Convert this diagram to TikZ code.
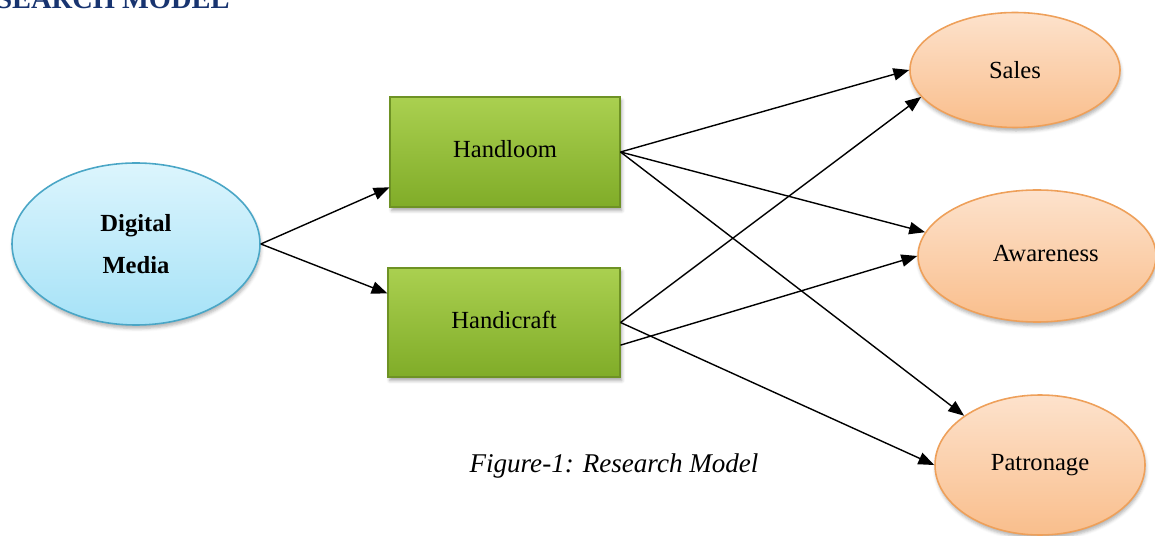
\documentclass[tikz,border=0pt]{standalone}
\usepackage{fontspec}
\setmainfont{Liberation Serif}
\usetikzlibrary{arrows.meta,shapes.geometric,shadows.blur}

\definecolor{navy}{RGB}{24,52,112}
\definecolor{skytop}{RGB}{220,245,253}
\definecolor{skybot}{RGB}{166,226,247}
\definecolor{skyline}{RGB}{74,166,198}
\definecolor{leaftop}{RGB}{170,208,80}
\definecolor{leafbot}{RGB}{128,172,40}
\definecolor{leafline}{RGB}{110,146,36}
\definecolor{peachtop}{RGB}{253,226,204}
\definecolor{peachbot}{RGB}{249,190,140}
\definecolor{peachline}{RGB}{238,160,90}

\tikzset{
    source/.style={ellipse, draw=skyline, line width=0.9pt, top color=skytop, bottom color=skybot,
        align=center, font=\fontsize{14}{24}\selectfont\bfseries,
        blur shadow={shadow xshift=0.5pt, shadow yshift=-2pt, shadow opacity=30}},
    sector/.style={rectangle, draw=leafline, line width=0.6pt, top color=leaftop, bottom color=leafbot,
        font=\fontsize{14}{17}\selectfont,
        blur shadow={shadow xshift=1pt, shadow yshift=-2pt, shadow opacity=35}},
    outcome/.style={ellipse, draw=peachline, line width=0.9pt, top color=peachtop, bottom color=peachbot,
        font=\fontsize{14}{17}\selectfont,
        blur shadow={shadow xshift=0.5pt, shadow yshift=-2pt, shadow opacity=30}},
    link/.style={-{Triangle[length=9pt,width=7pt]}, line width=0.8pt}
}

\begin{document}
\begin{tikzpicture}
        \useasboundingbox (0,0) rectangle (23.1,-10.72);
        % heading
            \node[anchor=base west, inner sep=0pt, text=navy, font=\fontsize{16.2}{18}\selectfont\bfseries]
                (heading) at (-0.08,-0.17) {SEARCH MODEL};
        % boxes
            \node[source, minimum width=4.96cm, minimum height=3.24cm] (media) at (2.72,-4.88) {Digital\\Media};
            \node[sector, minimum width=4.6cm, minimum height=2.2cm] (handloom) at (10.1,-3.04) {\raisebox{4pt}{Handloom}};
            \node[sector, minimum width=4.64cm, minimum height=2.18cm] (handicraft) at (10.08,-6.45) {\raisebox{3pt}{Handicraft}};
            \node[outcome, minimum width=4.2cm, minimum height=2.3cm] (sales) at (20.3,-1.4) {Sales};
            \node[outcome, minimum width=4.76cm, minimum height=2.64cm] (awareness) at (20.74,-5.12) {\hspace*{10pt}\raisebox{3pt}{Awareness}};
            \node[outcome, minimum width=4.2cm, minimum height=2.8cm] (patronage) at (20.8,-9.3) {\raisebox{2pt}{Patronage}};
        % links
            \draw[link] (media.east) -- (handloom.197);
            \draw[link] (media.east) -- (handicraft.166);
            \foreach \a/\b in {handloom.east/sales.west, handloom.east/awareness.168, handloom.east/patronage.147,
                               handicraft.east/sales.196, handicraft.-11/awareness.west, handicraft.east/patronage.west}{
                \draw[link] (\a) -- (\b);
            }
        % caption
            \node[font=\fontsize{15.4}{18}\selectfont\itshape] (caption) at (12.28,-9.32) {Figure-1: Research Model};
\end{tikzpicture}
\end{document}
